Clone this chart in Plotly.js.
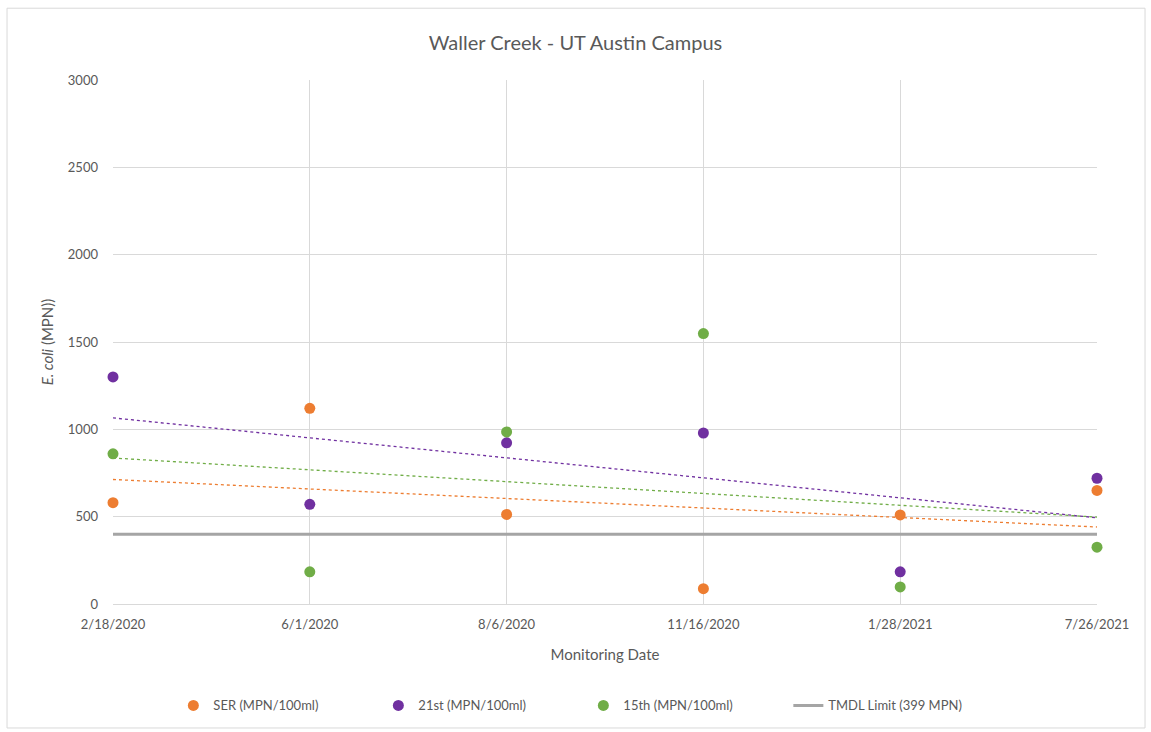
<!DOCTYPE html>
<html>
<head>
<meta charset="utf-8">
<script src="https://cdn.plot.ly/plotly-3.0.1.min.js"></script>
<style>html,body{margin:0;padding:0;background:#fff;}#chart{width:1151px;height:732px;}</style>
</head>
<body>
<div id="chart"></div>
<script>
const dates = ["2/18/2020", "6/1/2020", "8/6/2020", "11/16/2020", "1/28/2021", "7/26/2021"];
const serValues = [580, 1120, 513, 88, 510, 650];
const st21Values = [1300, 571, 923, 979, 184, 720];
const st15Values = [860, 184, 985, 1548, 98, 325];
const tmdlLimit = 399;

const idx = dates.map((d, i) => i);
function trend(ys) {
  const n = ys.length;
  const mx = idx.reduce((a, b) => a + b, 0) / n;
  const my = ys.reduce((a, b) => a + b, 0) / n;
  let sxy = 0, sxx = 0;
  for (let i = 0; i < n; i++) { sxy += (idx[i] - mx) * (ys[i] - my); sxx += (idx[i] - mx) ** 2; }
  const m = sxy / sxx, b = my - m * mx;
  return idx.map(x => m * x + b);
}

const cOrange = "#ED7D31", cPurple = "#7030A0", cGreen = "#70AD47", cGray = "#A5A5A5";
const mk = (c) => ({color: c, size: 11});

const traces = [
  {x: idx, y: trend(serValues), mode: "lines", line: {color: cOrange, width: 1.3, dash: "dot"}, showlegend: false, hoverinfo: "skip"},
  {x: idx, y: trend(st21Values), mode: "lines", line: {color: cPurple, width: 1.3, dash: "dot"}, showlegend: false, hoverinfo: "skip"},
  {x: idx, y: trend(st15Values), mode: "lines", line: {color: cGreen, width: 1.3, dash: "dot"}, showlegend: false, hoverinfo: "skip"},
  {x: [idx[0], idx[idx.length - 1]], y: [tmdlLimit, tmdlLimit], mode: "lines", name: "TMDL Limit (399 MPN)", line: {color: cGray, width: 3}, legendrank: 4},
  {x: idx, y: serValues, mode: "markers", name: "SER (MPN/100ml)", marker: mk(cOrange), legendrank: 1, cliponaxis: false},
  {x: idx, y: st21Values, mode: "markers", name: "21st (MPN/100ml)", marker: mk(cPurple), legendrank: 2, cliponaxis: false},
  {x: idx, y: st15Values, mode: "markers", name: "15th (MPN/100ml)", marker: mk(cGreen), legendrank: 3, cliponaxis: false}
];

const font = {family: "Lato, 'Open Sans', sans-serif", color: "#595959", size: 13};
const layout = {
  width: 1151, height: 732,
  margin: {l: 113, r: 54, t: 80, b: 128},
  paper_bgcolor: "#fff", plot_bgcolor: "#fff",
  font: font,
  title: {text: "Waller Creek - UT Austin Campus", font: {family: font.family, size: 20, color: "#595959"}, x: 0.5, xanchor: "center", y: 0.941, yanchor: "middle"},
  xaxis: {
    range: [0, 5], tickvals: idx, ticktext: dates, showgrid: true, gridcolor: "#D9D9D9", gridwidth: 1,
    zeroline: false, showline: true, linecolor: "#D9D9D9", linewidth: 1, ticks: "", ticklabelstandoff: 8,
    tickfont: {size: 13, color: "#595959"},
    title: {text: "Monitoring Date", font: {size: 15, color: "#595959"}, standoff: 18}
  },
  yaxis: {
    range: [0, 3000], dtick: 500, showgrid: true, gridcolor: "#D9D9D9", gridwidth: 1,
    zeroline: false, showline: false, ticks: "", ticklabelstandoff: 14,
    tickfont: {size: 13, color: "#595959"},
    title: {text: "<i>E. coli</i> (MPN))", font: {size: 15, color: "#595959"}, standoff: 10}
  },
  legend: {orientation: "h", x: 0.478, xanchor: "center", y: -0.165, yanchor: "top", font: {size: 13, color: "#595959"},
           itemwidth: 30, entrywidth: 160, entrywidthmode: "pixels", traceorder: "normal"},
  shapes: [
    {type: "rect", xref: "paper", yref: "paper", x0: -0.1077, x1: 1.0488, y0: -0.2366, y1: 1.137, line: {color: "#D9D9D9", width: 1}, fillcolor: "rgba(0,0,0,0)", layer: "below"}
  ],
  showlegend: true
};

Plotly.newPlot("chart", traces, layout, {displayModeBar: false, staticPlot: true});
</script>
</body>
</html>
